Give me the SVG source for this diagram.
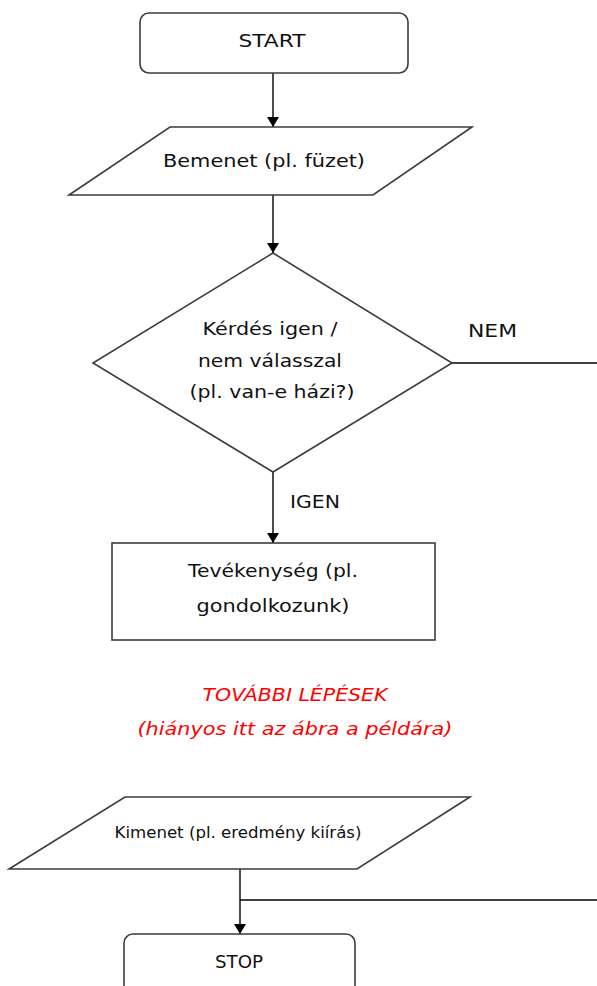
<svg xmlns="http://www.w3.org/2000/svg" width="597" height="986" viewBox="0 0 597 986">
<style>
.shape{fill:#ffffff;stroke:#3c3c3c;stroke-width:1.6}
.conn{fill:none;stroke:#000000;stroke-width:1.4}
.t{font-family:"DejaVu Sans","Liberation Sans",sans-serif;font-size:17px;fill:#111111;text-anchor:middle}
.s{font-size:15px}
.lbl{font-family:"DejaVu Sans","Liberation Sans",sans-serif;font-size:17px;fill:#111111}
.red{font-family:"DejaVu Sans","Liberation Sans",sans-serif;font-size:17px;fill:#ff0000;font-style:italic;text-anchor:middle}
</style>
<defs>
<marker id="arr" viewBox="0 0 10 12" refX="10" refY="6" markerWidth="10" markerHeight="12" markerUnits="userSpaceOnUse" orient="auto">
<path d="M0,0 L10,6 L0,12 Z" fill="#000000"/>
</marker>
</defs>
<rect width="597" height="986" fill="#ffffff"/>
<g id="connectors">
<line class="conn" x1="273" y1="73" x2="273" y2="127" marker-end="url(#arr)"/>
<line class="conn" x1="273" y1="195" x2="273" y2="253" marker-end="url(#arr)"/>
<line class="conn" x1="273" y1="472" x2="273" y2="543" marker-end="url(#arr)"/>
<line class="conn" x1="452" y1="363" x2="597" y2="363"/>
<line class="conn" x1="240" y1="869" x2="240" y2="934" marker-end="url(#arr)"/>
<line class="conn" x1="597" y1="900" x2="240" y2="900"/>
<text class="lbl" x="290" y="508" textLength="50" lengthAdjust="spacingAndGlyphs">IGEN</text>
<text class="lbl" x="468" y="337" textLength="49" lengthAdjust="spacingAndGlyphs">NEM</text>
</g>
<g id="start">
<rect class="shape" x="140" y="13" width="268" height="60" rx="9" ry="9"/>
<text class="t" x="272" y="47" textLength="67" lengthAdjust="spacingAndGlyphs">START</text>
</g>
<g id="bemenet">
<polygon class="shape" points="170,127 472,127 373,195 69,195"/>
<text class="t" x="264" y="167" textLength="202" lengthAdjust="spacingAndGlyphs">Bemenet (pl. füzet)</text>
</g>
<g id="kerdes">
<polygon class="shape" points="273,253 452,363 273,472 93,363"/>
<text class="t" x="270" y="335" textLength="135" lengthAdjust="spacingAndGlyphs">Kérdés igen /</text>
<text class="t" x="270" y="367" textLength="144" lengthAdjust="spacingAndGlyphs">nem válasszal</text>
<text class="t" x="272" y="398" textLength="165" lengthAdjust="spacingAndGlyphs">(pl. van-e házi?)</text>
</g>
<g id="tevekenyseg">
<rect class="shape" x="112" y="543" width="323" height="97"/>
<text class="t" x="273" y="577" textLength="170" lengthAdjust="spacingAndGlyphs">Tevékenység (pl.</text>
<text class="t" x="273" y="612" textLength="153" lengthAdjust="spacingAndGlyphs">gondolkozunk)</text>
</g>
<g id="tovabbi">
<text class="red" x="295" y="701" textLength="185" lengthAdjust="spacingAndGlyphs">TOVÁBBI LÉPÉSEK</text>
<text class="red" x="295" y="735" textLength="315" lengthAdjust="spacingAndGlyphs">(hiányos itt az ábra a példára)</text>
</g>
<g id="kimenet">
<polygon class="shape" points="125,797 470,797 357,869 9,869"/>
<text class="t s" x="238" y="838" textLength="247" lengthAdjust="spacingAndGlyphs">Kimenet (pl. eredmény kiírás)</text>
</g>
<g id="stop">
<rect class="shape" x="124" y="934" width="231" height="70" rx="9" ry="9"/>
<text class="t" x="239" y="968" textLength="48" lengthAdjust="spacingAndGlyphs">STOP</text>
</g>
</svg>
